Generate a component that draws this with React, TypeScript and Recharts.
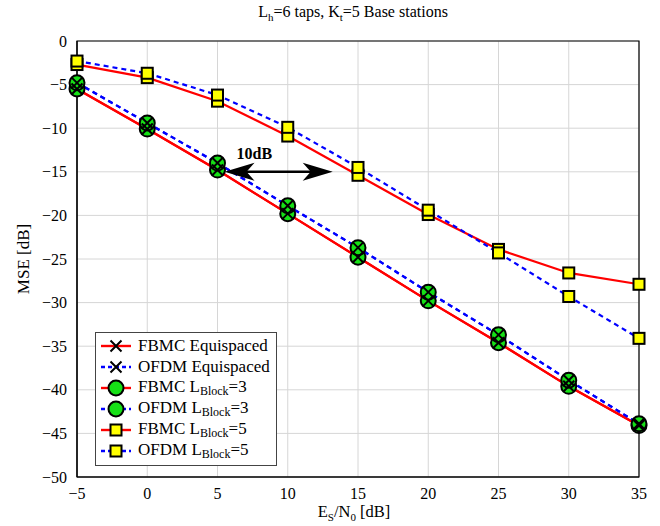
import React from "react"
import {
  CartesianGrid,
  Line,
  LineChart,
  ReferenceArea,
  ReferenceLine,
  XAxis,
  YAxis,
} from "recharts"

const snr = [-5, 0, 5, 10, 15, 20, 25, 30, 35]
const fbmcEqui = [-5.5, -10.1, -14.8, -19.8, -24.8, -29.8, -34.6, -39.6, -44.1]
const ofdmEqui = [-4.8, -9.4, -14.0, -18.9, -23.7, -28.8, -33.7, -38.9, -43.9]
const fbmcL3 = [-5.5, -10.1, -14.8, -19.8, -24.8, -29.8, -34.6, -39.6, -44.1]
const ofdmL3 = [-4.8, -9.4, -14.0, -18.9, -23.7, -28.8, -33.7, -38.9, -43.9]
const fbmcL5 = [-2.7, -4.2, -6.9, -10.9, -15.4, -19.9, -23.9, -26.6, -27.9]
const ofdmL5 = [-2.3, -3.7, -6.2, -9.9, -14.5, -19.4, -24.3, -29.3, -34.1]
const xTicks = [-5, 0, 5, 10, 15, 20, 25, 30, 35]
const yTicks = [-50, -45, -40, -35, -30, -25, -20, -15, -10, -5, 0]

const rows = snr.map((x, i) => ({
  x,
  fbmcEqui: fbmcEqui[i],
  ofdmEqui: ofdmEqui[i],
  fbmcL3: fbmcL3[i],
  ofdmL3: ofdmL3[i],
  fbmcL5: fbmcL5[i],
  ofdmL5: ofdmL5[i],
}))

const RED = "#ff0000"
const BLUE = "#0000ff"
const GREEN = "#16e016"
const YELLOW = "#ffff00"
const FONT = "'Liberation Serif', 'Times New Roman', serif"
const DASH = "5 4"

const minus = (v: number) => (v < 0 ? `\u2212${-v}` : `${v}`)

function Cross({ cx, cy }: { cx: number; cy: number }) {
  const s = 5.5
  return (
    <path
      d={`M${cx - s},${cy - s}L${cx + s},${cy + s}M${cx - s},${cy + s}L${cx + s},${cy - s}`}
      stroke="#000"
      strokeWidth={2}
    />
  )
}

function Circle({ cx, cy }: { cx: number; cy: number }) {
  return <circle cx={cx} cy={cy} r={7.5} fill={GREEN} stroke="#000" strokeWidth={2} />
}

function Square({ cx, cy }: { cx: number; cy: number }) {
  return (
    <rect x={cx - 5.5} y={cy - 5.5} width={11} height={11} fill={YELLOW} stroke="#000" strokeWidth={2} />
  )
}

const crossDot = (p: any) => <Cross key={`c${p.index}`} cx={p.cx} cy={p.cy} />
const circleDot = (p: any) => <Circle key={`o${p.index}`} cx={p.cx} cy={p.cy} />
const squareDot = (p: any) => <Square key={`s${p.index}`} cx={p.cx} cy={p.cy} />

// double arrow with "10dB" label between the two curve families
function Arrow(p: any) {
  const { x1, y1, x2 } = p
  const L = 30
  const H = 9
  const N = 8
  return (
    <g>
      <line x1={x1 + 10} y1={y1} x2={x2 - 10} y2={y1} stroke="#000" strokeWidth={2.5} />
      <path
        d={`M${x1},${y1}L${x1 + L},${y1 - H}L${x1 + L - N},${y1}L${x1 + L},${y1 + H}Z`}
        fill="#000"
      />
      <path
        d={`M${x2},${y1}L${x2 - L},${y1 - H}L${x2 - L + N},${y1}L${x2 - L},${y1 + H}Z`}
        fill="#000"
      />
      <text x={x1 + 12} y={y1 - 13} style={{ fontFamily: FONT }} fontWeight="bold" fontSize={16} fill="#000">
        10dB
      </text>
    </g>
  )
}

const legendItems = [
  { name: "FBMC", rest: "Equispaced", color: RED, dash: false, mark: "x" },
  { name: "OFDM", rest: "Equispaced", color: BLUE, dash: true, mark: "x" },
  { name: "FBMC", rest: "=3", color: RED, dash: false, mark: "o", block: true },
  { name: "OFDM", rest: "=3", color: BLUE, dash: true, mark: "o", block: true },
  { name: "FBMC", rest: "=5", color: RED, dash: false, mark: "s", block: true },
  { name: "OFDM", rest: "=5", color: BLUE, dash: true, mark: "s", block: true },
]

function LegendBox() {
  return (
    <div
      style={{
        position: "absolute",
        left: 95,
        top: 332,
        width: 182,
        height: 134,
        border: "1.5px solid #444",
        background: "#fff",
        fontFamily: FONT,
        fontSize: 17,
        color: "#000",
        boxSizing: "border-box",
      }}
    >
      {legendItems.map((it, i) => (
        <div
          key={i}
          style={{
            position: "absolute",
            left: 4,
            top: 2 + i * 21,
            height: 21,
            display: "flex",
            alignItems: "center",
            whiteSpace: "nowrap",
          }}
        >
          <svg width={32} height={20} style={{ marginRight: 6 }}>
            <line
              x1={1}
              y1={10}
              x2={31}
              y2={10}
              stroke={it.color}
              strokeWidth={2.4}
              strokeDasharray={it.dash ? "4 3" : undefined}
            />
            {it.mark === "x" && <Cross cx={16} cy={10} />}
            {it.mark === "o" && <Circle cx={16} cy={10} />}
            {it.mark === "s" && <Square cx={16} cy={10} />}
          </svg>
          <span>
            {it.name}{" "}
            {it.block ? (
              <>
                L<sub style={{ fontSize: 12, verticalAlign: "-3px" }}>Block</sub>
                {it.rest}
              </>
            ) : (
              it.rest
            )}
          </span>
        </div>
      ))}
    </div>
  )
}

export default function App() {
  const tick = { fontSize: 16, fill: "#000", style: { fontFamily: FONT } }
  return (
    <div style={{ position: "absolute", left: 0, top: 0, width: 660, height: 526, background: "#fff" }}>
      <div
        style={{
          position: "absolute",
          top: 3,
          left: 0,
          width: 706,
          textAlign: "center",
          fontFamily: FONT,
          fontSize: 16,
        }}
      >
        L<sub style={{ fontSize: 11 }}>h</sub>=6 taps, K<sub style={{ fontSize: 11 }}>t</sub>=5 Base stations
      </div>
      <LineChart
        width={660}
        height={526}
        data={rows}
        margin={{ top: 41, right: 21, bottom: 19, left: 17 }}
        style={{ fontFamily: FONT }}
      >
        <CartesianGrid stroke="#d6d6d6" strokeWidth={1} />
        <XAxis
          dataKey="x"
          type="number"
          domain={[-5, 35]}
          ticks={xTicks}
          tickFormatter={minus}
          tick={tick}
          tickLine={false}
          axisLine={{ stroke: "#000", strokeWidth: 1.2 }}
          height={30}
          tickMargin={5}
        />
        <YAxis
          type="number"
          domain={[-50, 0]}
          ticks={yTicks}
          tickFormatter={minus}
          tick={tick}
          tickLine={false}
          axisLine={{ stroke: "#000", strokeWidth: 1.2 }}
          width={60}
          tickMargin={4}
          label={{
            value: "MSE [dB]",
            angle: -90,
            position: "insideLeft",
            offset: 6,
            style: { fontFamily: FONT, fontSize: 17, fill: "#000", textAnchor: "middle" },
          }}
        />
        <ReferenceArea x1={-5} x2={35} y1={-50} y2={0} fill="none" stroke="#000" strokeWidth={1.2} />
        <Line dataKey="fbmcL3" stroke={RED} strokeWidth={2.2} dot={circleDot} isAnimationActive={false} />
        <Line dataKey="ofdmL3" stroke={BLUE} strokeWidth={2.2} strokeDasharray={DASH} dot={circleDot} isAnimationActive={false} />
        <Line dataKey="fbmcL5" stroke={RED} strokeWidth={2.2} dot={squareDot} isAnimationActive={false} />
        <Line dataKey="ofdmL5" stroke={BLUE} strokeWidth={2.2} strokeDasharray={DASH} dot={squareDot} isAnimationActive={false} />
        <Line dataKey="fbmcEqui" stroke={RED} strokeWidth={2.2} dot={crossDot} isAnimationActive={false} />
        <Line dataKey="ofdmEqui" stroke={BLUE} strokeWidth={2.2} strokeDasharray={DASH} dot={crossDot} isAnimationActive={false} />
        <ReferenceLine
          segment={[
            { x: 5.5, y: -15 },
            { x: 13.2, y: -15 },
          ]}
          shape={Arrow}
        />
      </LineChart>
      <div
        style={{
          position: "absolute",
          top: 502,
          left: 0,
          width: 708,
          textAlign: "center",
          fontFamily: FONT,
          fontSize: 16.5,
        }}
      >
        E<sub style={{ fontSize: 11 }}>S</sub>/N<sub style={{ fontSize: 11 }}>0</sub> [dB]
      </div>
      <LegendBox />
    </div>
  )
}
